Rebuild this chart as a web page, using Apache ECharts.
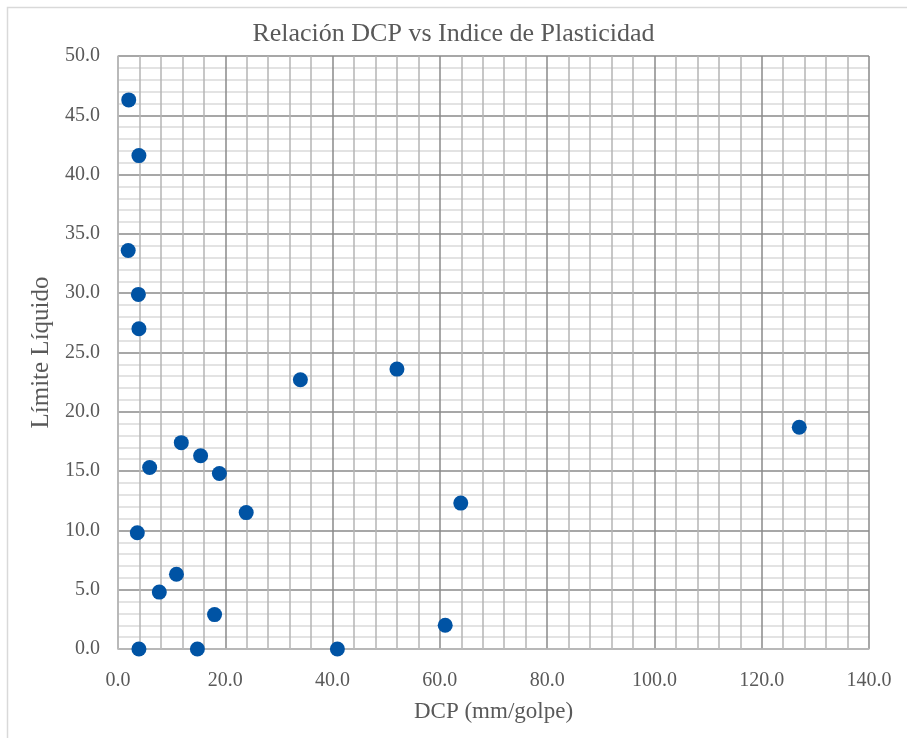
<!DOCTYPE html>
<html>
<head>
<meta charset="utf-8">
<script src="https://cdn.jsdelivr.net/npm/echarts@6/dist/echarts.min.js"></script>
<style>
  html, body { margin: 0; padding: 0; background: #ffffff; }
  #chart { width: 907px; height: 738px; }
</style>
</head>
<body>
<div id="chart"></div>
<script>
// DCP (mm/golpe) readings and the matching Límite Líquido values
const dcpValues = [2.0, 3.9, 1.9, 3.8, 3.9, 34.0, 52.0, 127.0, 11.8, 15.4, 5.9, 18.9, 23.9, 63.9, 3.6, 10.9, 7.7, 18.0, 3.9, 14.8, 40.9, 61.0];
const limiteLiquido = [46.3, 41.6, 33.6, 29.9, 27.0, 22.7, 23.6, 18.7, 17.4, 16.3, 15.3, 14.8, 11.5, 12.3, 9.8, 6.3, 4.8, 2.9, 0.0, 0.0, 0.0, 2.0];

const chartTitle = 'Relación DCP vs Indice de Plasticidad';
const xAxisTitle = 'DCP (mm/golpe)';
const yAxisTitle = 'Límite Líquido';

const points = dcpValues.map((x, i) => [x, limiteLiquido[i]]);

const serif = '"Liberation Serif", "DejaVu Serif", serif';
const fmt = v => v.toFixed(1);

const chart = echarts.init(document.getElementById('chart'), null, { renderer: 'canvas' });
chart.setOption({
  backgroundColor: '#ffffff',
  animation: false,
  graphic: [{
    type: 'rect',
    left: 5, top: 5,
    shape: { width: 920, height: 760 },
    style: { fill: 'none', stroke: '#d9d9d9', lineWidth: 1.5 },
    silent: true, z: -1
  }],
  title: {
    text: chartTitle,
    left: 'center',
    top: 16,
    textStyle: { fontFamily: serif, fontSize: 26, fontWeight: 'normal', color: '#595959' }
  },
  grid: { left: 118, right: 38, top: 56, bottom: 89, containLabel: false },
  xAxis: {
    type: 'value',
    min: 0, max: 140, interval: 20,
    name: xAxisTitle,
    nameLocation: 'middle',
    nameGap: 51,
    nameTextStyle: { fontFamily: serif, fontSize: 23, color: '#595959' },
    axisLine: { show: true, lineStyle: { color: '#bfbfbf', width: 1.5 } },
    axisTick: { show: false },
    axisLabel: { formatter: fmt, margin: 22, fontFamily: serif, fontSize: 20, color: '#595959' },
    splitLine: { show: true, lineStyle: { color: '#8a8a8a', width: 1.5 } },
    minorTick: { show: false, splitNumber: 5 },
    minorSplitLine: { show: true, lineStyle: { color: '#b5b5b5', width: 1.5 } }
  },
  yAxis: {
    type: 'value',
    min: 0, max: 50, interval: 5,
    name: yAxisTitle,
    nameLocation: 'middle',
    nameGap: 55,
    nameTextStyle: { fontFamily: serif, fontSize: 25, color: '#595959' },
    axisLine: { show: true, lineStyle: { color: '#bfbfbf', width: 1.5 } },
    axisTick: { show: false },
    axisLabel: { formatter: fmt, margin: 18, fontFamily: serif, fontSize: 20, color: '#595959' },
    splitLine: { show: true, lineStyle: { color: '#8a8a8a', width: 1.5 } },
    minorTick: { show: false, splitNumber: 5 },
    minorSplitLine: { show: true, lineStyle: { color: '#dadada', width: 1.5 } }
  },
  series: [{
    type: 'scatter',
    data: points,
    symbol: 'circle',
    symbolSize: 15,
    itemStyle: { color: '#0053a4', opacity: 1 },
    z: 5
  }]
});
</script>
</body>
</html>
